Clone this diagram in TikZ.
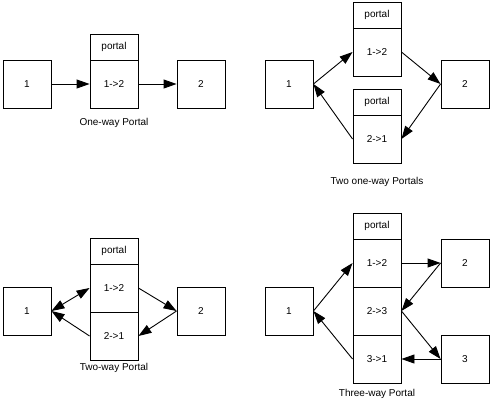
\documentclass[tikz,border=0pt]{standalone}
\usepackage{fontspec}
\setmainfont{Liberation Sans}
\usetikzlibrary{arrows.meta,positioning}

\begin{document}
\begin{tikzpicture}[
  x=1pt, y=-1pt,
  font=\fontsize{10}{11}\selectfont,
  room/.style={draw, minimum width=48pt, minimum height=48pt, inner sep=0pt},
  cell/.style={room},
  head/.style={draw, minimum width=48pt, minimum height=26pt, inner sep=0pt},
  title/.style={inner sep=0pt},
  line width=0.9pt,
  >={Triangle[length=13pt,width=9pt]}, node distance=-0.9pt
]
\useasboundingbox (0,0) rectangle (491,407);
% one-way portal
\node[room] (a1) at (27,84) {1};
\node[cell] (ap) at (114,84) {1->2};
\node[head, above=of ap] (ah) {portal};
\node[room] (a2) at (201,84) {2};
\node[title] at (114,123) {One-way Portal};
\draw[->] (a1) -- (ap);
\draw[->] (ap) -- (a2);
% two one-way portals
\node[room] (b1) at (289,84) {1};
\node[cell] (bp) at (377,52) {1->2};
\node[head, above=of bp] (bh) {portal};
\node[cell] (bq) at (377,139) {2->1};
\node[head, above=of bq] (bk) {portal};
\node[room] (b2) at (465,84) {2};
\node[title] at (377,182) {Two one-way Portals};
\draw[->] (b1.east) -- (bp.west);
\draw[->] (bp.east) -- (b2.west);
\draw[->] (b2.west) -- (bq.east);
\draw[->] (bq.west) -- (b1.east);
% two-way portal
\node[room] (c1) at (27,311) {1};
\node[cell] (cp) at (114,288) {1->2};
\node[head, above=of cp] (ch) {portal};
\node[cell, below=of cp] (cq) {2->1};
\node[room] (c2) at (201,311) {2};
\node[title] at (114,368) {Two-way Portal};
\draw[<->] (c1.east) -- (cp.west);
\draw[->] (cq.west) -- (c1.east);
\draw[->] (cp.east) -- (c2.west);
\draw[->] (c2.west) -- (cq.east);
% three-way portal
\node[room] (d1) at (289,311) {1};
\node[cell] (dp) at (377,263) {1->2};
\node[head, above=of dp] (dh) {portal};
\node[cell, below=of dp] (dq) {2->3};
\node[cell, below=of dq] (dr) {3->1};
\node[room] (d2) at (465,263) {2};
\node[room] (d3) at (465,359) {3};
\node[title] at (377,394) {Three-way Portal};
\draw[->] (d1.east) -- (dp.west);
\draw[->] (dr.west) -- (d1.east);
\draw[->] (dp) -- (d2);
\draw[->] (d2.west) -- (dq.east);
\draw[->] (dq.east) -- (d3.west);
\draw[->] (d3) -- (dr);
\end{tikzpicture}
\end{document}
